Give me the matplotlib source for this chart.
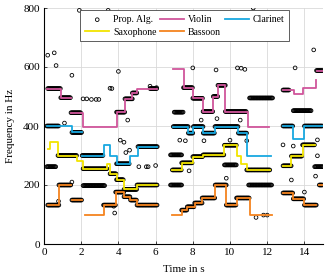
import matplotlib
matplotlib.use("Agg")
import matplotlib.pyplot as plt
import numpy as np

plt.rcParams["font.family"] = ["Liberation Serif", "DejaVu Serif"]
plt.rcParams["font.size"] = 8

# ground truth pitch tracks: lists of (t_start, t_end, f_hz), one list per connected part
violin_parts = [
    [(0.15, 0.9, 527), (0.9, 1.45, 496)],
    [(1.45, 2.1, 445), (2.1, 3.9, 395), (3.9, 4.35, 447), (4.35, 4.75, 492),
     (4.75, 5.0, 512), (5.0, 6.1, 527)],
    [(6.95, 7.5, 592), (7.5, 8.0, 530), (8.0, 8.55, 494), (8.55, 9.1, 449),
     (9.1, 9.35, 500), (9.35, 9.75, 538), (9.75, 10.95, 449), (10.95, 12.1, 398)],
    [(12.85, 13.45, 522), (13.45, 13.95, 508), (13.95, 14.6, 528), (14.6, 14.63, 557)],
    [(14.7, 15.0, 588)],
]
clarinet_parts = [
    [(0.15, 1.5, 400), (1.5, 2.05, 378)],
    [(2.05, 3.2, 300), (3.2, 3.55, 334), (3.55, 3.9, 300), (3.9, 4.6, 272),
     (4.6, 5.05, 300), (5.05, 6.1, 330)],
    [(6.95, 7.76, 398), (7.76, 8.03, 376), (8.03, 8.56, 398), (8.56, 9.19, 376),
     (9.19, 10.45, 398), (10.45, 10.93, 376), (10.93, 12.2, 299)],
    [(12.85, 13.4, 400), (13.4, 14.0, 355), (14.0, 15.0, 400)],
]
saxophone_parts = [
    [(0.2, 0.3, 322), (0.3, 0.75, 345), (0.75, 1.77, 300), (1.77, 2.1, 280),
     (2.1, 3.4, 255), (3.4, 3.55, 270), (3.55, 3.9, 238), (3.9, 4.3, 218),
     (4.3, 5.0, 185), (5.0, 6.1, 200)],
    [(6.9, 7.4, 251), (7.4, 8.0, 275), (8.0, 8.55, 296), (8.55, 9.7, 302),
     (9.7, 10.35, 335), (10.35, 10.6, 300), (10.6, 10.9, 270), (10.9, 12.15, 251)],
    [(12.85, 13.3, 265), (13.3, 13.9, 298), (13.9, 14.55, 336)],
]
bassoon_parts = [
    [(0.2, 0.8, 132), (0.8, 1.45, 200)],
    [(1.5, 2.05, 149)],
    [(2.2, 3.2, 98), (3.2, 3.85, 132), (3.85, 4.3, 176), (4.3, 4.65, 160),
     (4.65, 5.0, 149), (5.0, 6.1, 132)],
    [(6.9, 7.4, 98), (7.4, 7.7, 115), (7.7, 8.1, 126), (8.1, 8.5, 139),
     (8.5, 9.2, 156), (9.2, 9.8, 200), (9.8, 10.35, 132), (10.35, 11.05, 156),
     (11.05, 12.25, 98)],
    [(12.85, 13.4, 173), (13.4, 14.0, 153), (14.0, 14.65, 132)],
    [(14.8, 15.0, 200)],
]

# estimated tracks of the proposed algorithm (dense runs of frames)
est_tracks = [
    # violin region
    (0.2, 0.9, 527), (0.9, 1.45, 496), (1.45, 2.0, 445), (3.9, 4.35, 447),
    (4.35, 4.75, 492), (4.75, 5.0, 512), (5.7, 6.1, 527),
    (7.0, 7.5, 447), (7.5, 8.0, 530), (8.0, 8.55, 494), (8.55, 9.1, 449),
    (9.1, 9.35, 500), (9.35, 9.75, 538), (9.75, 10.9, 449), (11.05, 12.3, 495),
    (13.4, 14.4, 452), (14.65, 15.0, 588), (12.85, 13.2, 522),
    # clarinet region
    (0.15, 0.8, 400), (1.5, 2.05, 378), (2.05, 3.2, 300), (3.9, 4.6, 272),
    (5.05, 6.1, 330), (6.95, 7.76, 398), (7.76, 8.03, 376), (8.03, 8.56, 398),
    (8.56, 9.19, 376), (9.19, 10.45, 398), (10.45, 10.9, 376),
    (12.85, 13.4, 400), (14.0, 15.0, 400),
    # saxophone region
    (0.75, 1.77, 300), (2.1, 3.4, 255), (3.55, 3.9, 238), (3.9, 4.3, 218),
    (4.3, 5.0, 185), (5.0, 6.1, 200), (6.9, 7.4, 251), (7.4, 8.0, 275),
    (8.0, 8.55, 296), (8.55, 9.7, 302), (9.7, 10.35, 335), (10.9, 12.15, 251),
    (12.85, 13.3, 265), (13.3, 13.9, 298), (13.9, 14.55, 336), (14.55, 15.0, 262),
    # bassoon region
    (0.2, 0.8, 132), (0.8, 1.45, 200), (1.5, 2.05, 149), (3.2, 3.85, 132),
    (3.85, 4.3, 176), (4.3, 4.65, 160), (4.65, 5.0, 149), (5.0, 6.1, 132),
    (7.4, 7.7, 115), (7.7, 8.1, 126), (8.1, 8.5, 139), (8.5, 9.2, 156),
    (9.2, 9.8, 200), (9.8, 10.35, 132), (10.35, 11.05, 156),
    (12.85, 13.4, 173), (13.4, 14.0, 153), (14.0, 14.65, 132), (14.8, 15.0, 200),
    # octave / spurious runs
    (0.15, 0.65, 262), (2.1, 3.3, 198), (6.8, 7.4, 302), (6.8, 7.4, 200),
    (9.7, 10.35, 268), (11.0, 12.25, 200),
]
frame_hop = 0.04

# isolated estimates
out_t = [0.2, 0.55, 0.65, 1.5, 1.9, 3.45, 4.0, 2.1, 2.3, 2.55, 2.8, 2.95, 3.55,
         3.65, 5.7, 6.05, 1.5, 0.78, 3.75, 3.8, 4.1, 4.3, 4.6, 4.4, 5.1, 5.5,
         5.6, 6.0, 8.0, 9.25, 10.4, 10.6, 10.8, 11.25, 13.5, 14.5, 7.3, 7.6,
         8.6, 10.0, 10.9, 9.8, 7.8, 11.4, 11.8, 12.0, 13.3, 14.0, 14.6,
         12.85, 13.4, 14.7, 14.7, 10.55, 8.45, 9.3, 1.1, 4.5]
out_f = [640, 648, 605, 572, 792, 792, 585, 492, 492, 490, 490, 490, 528,
         527, 535, 530, 210, 145, 128, 105, 352, 345, 318, 310, 262, 262,
         262, 266, 597, 590, 597, 596, 592, 800, 597, 658, 352, 350,
         350, 352, 350, 223, 248, 90, 98, 98, 217, 176, 230,
         336, 332, 353, 299, 420, 420, 425, 410, 420]

colors = {
    "Violin": "#d0559b",
    "Clarinet": "#18a8e0",
    "Saxophone": "#f2e400",
    "Bassoon": "#f5841f",
}

fig = plt.figure(figsize=(3.25, 2.76), dpi=100)
ax = fig.add_axes([44 / 325, 1 - 244 / 276, 279 / 325, 236 / 276])

et, ef = [], []
for t0, t1, f in est_tracks:
    ts = np.arange(t0, t1, frame_hop)
    et.extend(ts)
    ef.extend([f] * len(ts))
et.extend(out_t)
ef.extend(out_f)
hp = ax.scatter(et, ef, s=7, facecolors="none", edgecolors="black",
                linewidths=0.6, zorder=2, label="Prop. Alg.")

handles = {"Prop. Alg.": hp}
for name, parts in [("Violin", violin_parts), ("Clarinet", clarinet_parts),
                    ("Saxophone", saxophone_parts), ("Bassoon", bassoon_parts)]:
    for i, part in enumerate(parts):
        xs, ys = [], []
        for t0, t1, f in part:
            xs += [t0, t1]
            ys += [f, f]
        (ln,) = ax.plot(xs, ys, color=colors[name], lw=1.3, zorder=3,
                        label=name if i == 0 else None)
        if i == 0:
            handles[name] = ln

ax.set_xlim(0, 15)
ax.set_ylim(0, 800)
ax.set_xticks(range(0, 15, 2))
ax.set_yticks(range(0, 801, 200))
ax.grid(True, color="#d9d9d9", lw=0.6)
ax.set_axisbelow(True)
for s in ["top", "right"]:
    ax.spines[s].set_visible(False)
ax.tick_params(direction="in", length=2, width=0.5, pad=3)
ax.set_xlabel("Time in s", labelpad=6)
ax.set_ylabel("Frequency in Hz", labelpad=6)

# legend fills column-wise, so order gives rows: Prop/Violin/Clarinet, Sax/Bassoon
order = ["Prop. Alg.", "Saxophone", "Violin", "Bassoon", "Clarinet"]
leg = ax.legend([handles[k] for k in order], order, ncol=3, loc="upper center",
                bbox_to_anchor=(0.505, 0.99), borderaxespad=0, fontsize=7,
                frameon=True, fancybox=False, edgecolor="#444444",
                framealpha=1, borderpad=0.5, handlelength=2.45,
                columnspacing=0.4, handletextpad=0.4, labelspacing=0.35)
leg.get_frame().set_linewidth(0.6)

fig.savefig("out.png", dpi=100)
